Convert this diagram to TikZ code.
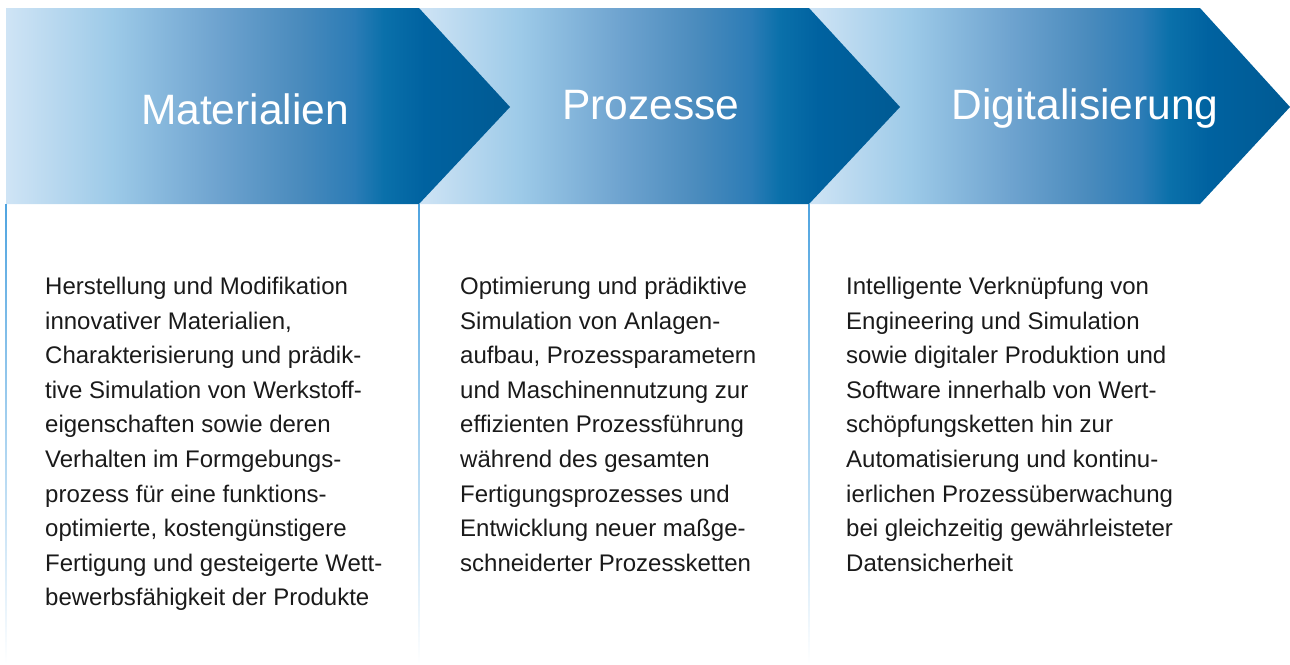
\documentclass[tikz,border=0pt]{standalone}
\usepackage{fontspec}
\setmainfont{Liberation Sans}
\usepackage{tikz}
\usetikzlibrary{positioning}

\definecolor{chevlight}{HTML}{CFE4F5}
\definecolor{chevpale}{HTML}{9DCAE8}
\definecolor{chevmid}{HTML}{6EA3CF}
\definecolor{chevsteel}{HTML}{4A8BBD}
\definecolor{chevdeep}{HTML}{2C7CB6}
\definecolor{chevdark}{HTML}{0A70AA}
\definecolor{chevnavy}{HTML}{0062A0}
\definecolor{chevtip}{HTML}{005A93}
\definecolor{lineblue}{HTML}{4FA4E0}
\definecolor{bodytext}{HTML}{1A1A1A}

% the shaded path fills the middle 50bp of the 100bp shading
\pgfdeclarehorizontalshading{chevshade}{100bp}{%
  color(0bp)=(chevlight); color(25bp)=(chevlight); color(35.5bp)=(chevpale);
  color(46bp)=(chevmid); color(54bp)=(chevsteel); color(59.5bp)=(chevdeep);
  color(62.5bp)=(chevdark); color(66.5bp)=(chevnavy); color(75bp)=(chevtip);
  color(100bp)=(chevtip)}

\begin{document}
\begin{tikzpicture}[x=1pt,y=-1pt,
  chevron/.style={shading=chevshade, draw=none},
  head/.style={text=white, font=\fontsize{42.5}{48}\selectfont, inner sep=0pt, anchor=base},
  body/.style={text=bodytext, font=\fontsize{24}{34.6}\selectfont, align=left,
               inner sep=0pt, anchor=north west},
  divider/.style={top color=lineblue, bottom color=white, draw=none}
]
\useasboundingbox (0,0) rectangle (1290,664);

% chevrons, drawn right to left so each tip lies over the next one
\shade[chevron] (809,8) -- (1200,8) -- (1290,107) -- (1200,204) -- (809,204) -- cycle;
\shade[chevron] (419,8) -- (809,8) -- (900,107) -- (809,204) -- (419,204) -- cycle;
\shade[chevron] (6,8) -- (419,8) -- (510,107) -- (419,204) -- (6,204) -- cycle;

% dividers
\shade[divider] (5.2,204) rectangle (6.8,664);
\shade[divider] (418.2,204) rectangle (419.8,664);
\shade[divider] (808.2,204) rectangle (809.8,664);

\node[head] (mat)  at (245,124) {Materialien};
\node[head] (proz) at (651,119) {Prozesse};
\node[head] (dig)  at (1085,119) {Digitalisierung};

\node[body] (matbody) at (45,277) {Herstellung und Modifikation\\
innovativer Materialien,\\
Charakterisierung und prädik-\\
tive Simulation von Werkstoff-\\
eigenschaften sowie deren\\
Verhalten im Formgebungs-\\
prozess für eine funktions-\\
optimierte, kostengünstigere\\
Fertigung und gesteigerte Wett-\\
bewerbsfähigkeit der Produkte};

\node[body] (prozbody) at (460,277) {Optimierung und prädiktive\\
Simulation von Anlagen-\\
aufbau, Prozessparametern\\
und Maschinennutzung zur\\
effizienten Prozessführung\\
während des gesamten\\
Fertigungsprozesses und\\
Entwicklung neuer maßge-\\
schneiderter Prozessketten};

\node[body] (digbody) at (846,277) {Intelligente Verknüpfung von\\
Engineering und Simulation\\
sowie digitaler Produktion und\\
Software innerhalb von Wert-\\
schöpfungsketten hin zur\\
Automatisierung und kontinu-\\
ierlichen Prozessüberwachung\\
bei gleichzeitig gewährleisteter\\
Datensicherheit};
\end{tikzpicture}
\end{document}
